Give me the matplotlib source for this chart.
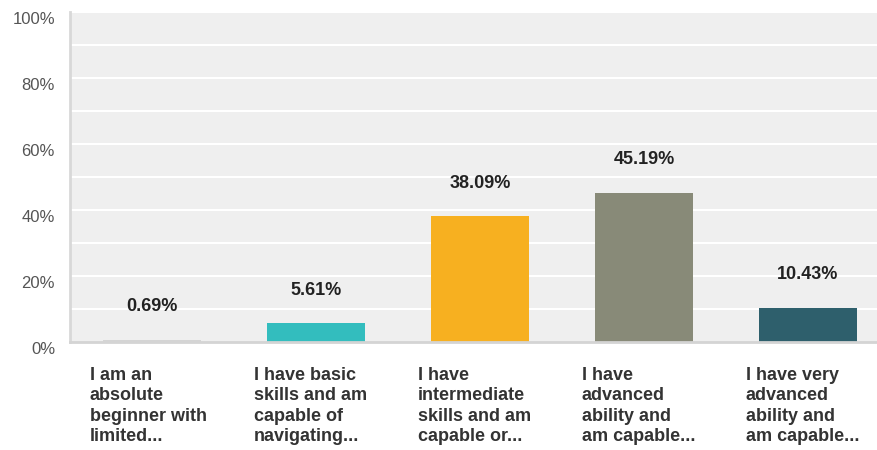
import matplotlib.pyplot as plt
import matplotlib.transforms as mtransforms

categories = [
    "I am an\nabsolute\nbeginner with\nlimited...",
    "I have basic\nskills and am\ncapable of\nnavigating...",
    "I have\nintermediate\nskills and am\ncapable or...",
    "I have\nadvanced\nability and\nam capable...",
    "I have very\nadvanced\nability and\nam capable...",
]
values = [0.69, 5.61, 38.09, 45.19, 10.43]
colors = ["#d4d4d4", "#33bdbe", "#f7b020", "#888a78", "#2e5f6c"]
yticks = [0, 20, 40, 60, 80, 100]

fig = plt.figure(figsize=(8.78, 4.5), dpi=100)
ax = fig.add_axes([70 / 878, 108 / 450, 1 - 70 / 878, 330 / 450])
ax.set_facecolor("#efefef")

x = list(range(len(values)))
ax.bar(x, values, width=0.6, color=colors, zorder=3)

ax.set_xlim(-0.5, 4.5 - 12 / 164)
ax.set_ylim(0, 100)
for g in range(10, 101, 10):
    ax.axhline(g, color="white", lw=1.5, zorder=1)

# y tick labels sit a few pixels below their gridlines
ax.set_yticks([])
ax.set_xticks([])
ylab_trans = mtransforms.blended_transform_factory(fig.transFigure, ax.transData) + \
    mtransforms.ScaledTranslation(0, -7 / 100, fig.dpi_scale_trans)
for t in yticks:
    ax.text(55 / 878, t, f"{t}%", transform=ylab_trans, ha="right", va="center",
            fontsize=12, color="#555555", family="Liberation Sans", clip_on=False)

for s in ["top", "right"]:
    ax.spines[s].set_visible(False)
ax.spines["left"].set_color("#d8d8d8")
ax.spines["left"].set_linewidth(2)
ax.spines["bottom"].set_color("#d4d4d4")
ax.spines["bottom"].set_linewidth(2)
ax.spines["bottom"].set_zorder(4)

for i, v in enumerate(values):
    ax.annotate(f"{v:.2f}%", (i, v), xytext=(0, 33), textcoords="offset pixels",
                ha="center", va="center", fontsize=13, fontweight="bold",
                color="#222222", family="Liberation Sans")

trans = mtransforms.blended_transform_factory(ax.transData, ax.transAxes)
for i, c in enumerate(categories):
    ax.text(i - 0.38, -0.075, c, transform=trans, ha="left", va="top",
            fontsize=13, fontweight="bold", color="#333333",
            family="Liberation Sans", linespacing=1.26)

fig.savefig("out.png", dpi=100)
